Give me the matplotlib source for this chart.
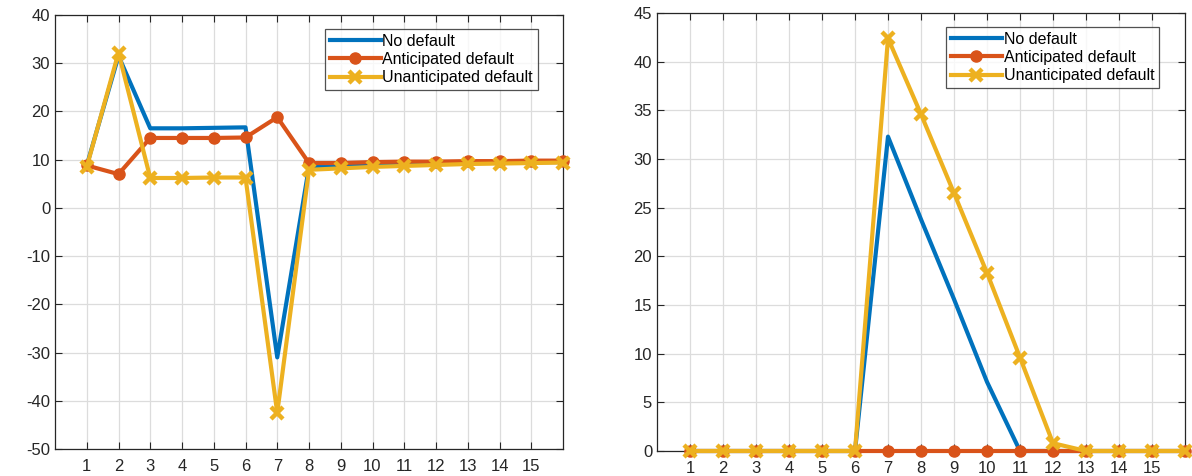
import matplotlib.pyplot as plt

plt.rcParams['font.family'] = ['Liberation Sans', 'DejaVu Sans']
plt.rcParams['axes.unicode_minus'] = False

periods = list(range(1, 17))
tick_labels = [str(i) for i in range(1, 16)]
labels = ['No default', 'Anticipated default', 'Unanticipated default']

# left panel
left_no_default = [8.8, 31.5, 16.5, 16.5, 16.6, 16.7, -31.0, 8.5, 8.8, 9.0, 9.1, 9.2, 9.3, 9.4, 9.5, 9.5]
left_anticipated = [8.8, 7.0, 14.5, 14.5, 14.5, 14.6, 18.8, 9.3, 9.3, 9.5, 9.6, 9.6, 9.7, 9.7, 9.8, 9.8]
left_unanticipated = [8.5, 32.2, 6.2, 6.2, 6.3, 6.3, -42.5, 7.9, 8.2, 8.5, 8.7, 8.9, 9.1, 9.2, 9.3, 9.4]

# right panel
right_no_default = [0, 0, 0, 0, 0, 0, 32.3, 23.8, 15.6, 7.1, 0, 0, 0, 0, 0, 0]
right_anticipated = [0] * 16
right_unanticipated = [0, 0, 0, 0, 0, 0, 42.4, 34.6, 26.5, 18.3, 9.6, 0.8, 0, 0, 0, 0]

blue = '#0072BD'
orange = '#D95319'
yellow = '#EDB120'
txt = '#262626'

fig = plt.figure(figsize=(11.92, 4.76), dpi=100)
ax1 = fig.add_axes([55 / 1192, 1 - 449 / 476, 508 / 1192, 434 / 476])
ax2 = fig.add_axes([657 / 1192, 1 - 451 / 476, 528 / 1192, 438 / 476])


def draw(ax, nd, ant, unant, ylim, yticks, leg_x, leg_y):
    ax.plot(periods, nd, color=blue, lw=3, label=labels[0], clip_on=False, zorder=3)
    ax.plot(periods, ant, color=orange, lw=3, marker='o', ms=8, label=labels[1], clip_on=False, zorder=4)
    ax.plot(periods, unant, color=yellow, lw=3, marker='x', ms=8, mew=3.2, label=labels[2],
            clip_on=False, zorder=5)
    ax.set_xlim(0, 16)
    ax.set_ylim(*ylim)
    ax.set_xticks(range(1, 16))
    ax.set_xticklabels(tick_labels)
    ax.set_yticks(yticks)
    ax.grid(True, color='#dcdcdc', lw=0.9)
    ax.set_axisbelow(True)
    ax.tick_params(direction='in', top=True, right=True, labelsize=12, colors=txt, length=5, width=0.8)
    ax.tick_params(axis='x', pad=7)
    for s in ax.spines.values():
        s.set_color(txt)
        s.set_linewidth(0.9)
    leg = ax.legend(loc='upper left', bbox_to_anchor=(leg_x, leg_y), fontsize=11.5, frameon=True, fancybox=False,
                    edgecolor=txt, handlelength=3.2, handletextpad=0.1, borderpad=0.3, labelspacing=0.2,
                    borderaxespad=0)
    leg.get_frame().set_linewidth(0.9)
    for t in leg.get_texts():
        t.set_color('black')


draw(ax1, left_no_default, left_anticipated, left_unanticipated, (-50, 40), range(-50, 41, 10),
     270 / 508, (449 - 29) / 434)
draw(ax2, right_no_default, right_anticipated, right_unanticipated, (0, 45), range(0, 46, 5),
     289 / 528, (451 - 27) / 438)

fig.savefig('out.png', dpi=100)
